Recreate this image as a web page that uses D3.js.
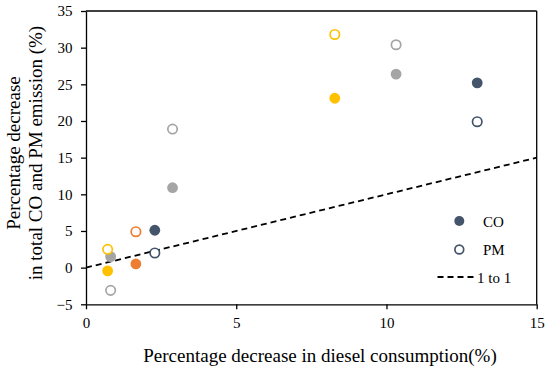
<!DOCTYPE html>
<html><head><meta charset="utf-8">
<script src="https://cdn.jsdelivr.net/npm/d3@7"></script>
<style>body{margin:0;background:#fff}svg{display:block}text{font-family:"Liberation Serif","Times New Roman",serif;fill:#000}</style>
</head><body><svg id="c" width="550" height="369"></svg>
<script>
// Data
const groups = ["gray", "orange", "navy", "yellow"];
const groupColors = ["#A5A5A5", "#ED7D31", "#44546A", "#FFC000"];
const dieselDecrease = [[0.82, 2.88, 10.32], [1.66], [2.29, 13.02], [0.72, 8.28]];
const coDecrease = [[1.5, 10.9, 26.4], [0.5], [5.1, 25.2], [-0.45, 23.1]];
const pmDecrease = [[-3.1, 18.9, 30.4], [4.9], [2.0, 19.9], [2.5, 31.8]];
const xTicks = [0, 5, 10, 15];
const yTicks = [-5, 0, 5, 10, 15, 20, 25, 30, 35];
const legendLabels = ["CO", "PM", "1 to 1"];

const svg = d3.select("#c");
const x = d3.scaleLinear().domain([0, 15]).range([86, 536.7]);
const y = d3.scaleLinear().domain([-5, 35]).range([304.3, 11]);

// frame
svg.append("line").attr("x1", x(0)).attr("x2", x(15)).attr("y1", y(35)).attr("y2", y(35)).attr("stroke", "#000").attr("stroke-width", 1.3);
svg.append("line").attr("x1", x(15)).attr("x2", x(15)).attr("y1", y(35)).attr("y2", y(-5)).attr("stroke", "#000").attr("stroke-width", 1.3);

const xAxis = svg.append("g").attr("transform", `translate(0,${y(-5)})`)
  .call(d3.axisBottom(x).tickValues(xTicks).tickSize(5).tickSizeOuter(0).tickPadding(8).tickFormat(d3.format("d")));
const yAxis = svg.append("g").attr("transform", `translate(${x(0)},0)`)
  .call(d3.axisLeft(y).tickValues(yTicks).tickSize(5).tickSizeOuter(0).tickPadding(8.5).tickFormat(d => d < 0 ? "\u2212" + Math.abs(d) : d));
[xAxis, yAxis].forEach(a => {
  a.attr("font-family", '"Liberation Serif",serif').attr("font-size", 15);
  a.select(".domain").attr("stroke", "#000").attr("stroke-width", 1.3);
  a.selectAll(".tick line").attr("stroke", "#000").attr("stroke-width", 1.3);
  a.selectAll("text").style("font-family", '"Liberation Serif",serif').style("font-size", "15px").attr("fill", "#000");
});

// 1 to 1 line
svg.append("line").attr("x1", x(0)).attr("y1", y(0)).attr("x2", x(15)).attr("y2", y(15))
  .attr("stroke", "#000").attr("stroke-width", 1.8).attr("stroke-dasharray", "6,4");

// points
groups.forEach((g, i) => {
  const col = groupColors[i];
  dieselDecrease[i].forEach((dx, j) => {
    svg.append("circle").attr("cx", x(dx)).attr("cy", y(coDecrease[i][j])).attr("r", 5.4).attr("fill", col);
    svg.append("circle").attr("cx", x(dx)).attr("cy", y(pmDecrease[i][j])).attr("r", 4.7)
      .attr("fill", "#fff").attr("stroke", col).attr("stroke-width", 1.7);
  });
});

// legend
const lg = svg.append("g");
lg.append("circle").attr("cx", 459.3).attr("cy", 221).attr("r", 5).attr("fill", "#44546A");
lg.append("circle").attr("cx", 459.3).attr("cy", 249.5).attr("r", 4.4).attr("fill", "#fff").attr("stroke", "#44546A").attr("stroke-width", 1.7);
lg.append("line").attr("x1", 437.5).attr("x2", 474).attr("y1", 277).attr("y2", 277).attr("stroke", "#000").attr("stroke-width", 1.8).attr("stroke-dasharray", "6,4");
[[483, 227], [483, 255], [477, 283]].forEach((p, k) => {
  lg.append("text").attr("x", p[0]).attr("y", p[1]).style("font-size", "15px").text(legendLabels[k]);
});

// axis titles
svg.append("text").attr("x", 320).attr("y", 362).attr("text-anchor", "middle").style("font-size", "19px")
  .text("Percentage decrease in diesel consumption(%)");
const yt = svg.append("text").attr("transform", "translate(0,153) rotate(-90)").attr("text-anchor", "middle").style("font-size", "19px");
yt.append("tspan").attr("x", 0).attr("y", 20).text("Percentage decrease");
yt.append("tspan").attr("x", 0).attr("y", 42).text("in total CO and PM emission (%)");
</script></body></html>
